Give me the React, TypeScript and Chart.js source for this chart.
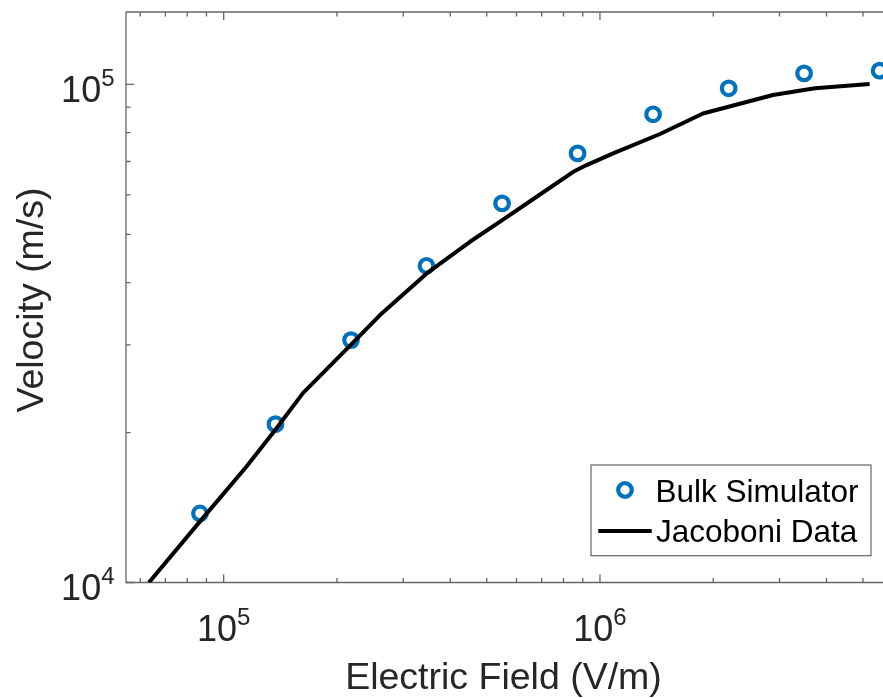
import { useEffect, useRef } from 'react';
import { Chart, registerables } from 'chart.js';

Chart.register(...registerables);

// ---- data ----
const fieldBulk = [86500, 137300, 218000, 345900, 549300, 871900, 1384000, 2198000, 3487000, 5534000];
const velocityBulk = [13760, 20790, 30660, 43220, 57680, 72690, 87060, 98170, 105200, 106500];

const fieldJacoboni = [63300, 87100, 114600, 136900, 162400, 218000, 260300, 346400, 451300, 550100, 678800, 849200, 921700, 1084000, 1444000, 1878000, 2882000, 3727000, 5208000];
const velocityJacoboni = [10000, 13340, 17040, 20220, 24000, 30030, 34420, 41730, 48300, 53400, 59480, 66750, 68860, 72690, 79480, 87370, 95170, 98170, 100100];

const xMajorTicks = [1e5, 1e6];
const yMajorTicks = [1e4, 1e5];
const xLimits = [55010, 5651000];
const yLimits = [10000, 139700];

const seriesLabels = ['Bulk Simulator', 'Jacoboni Data'];
const xTitle = 'Electric Field (V/m)';
const yTitle = 'Velocity (m/s)';

// ---- styles ----
const FONT = '"Liberation Sans", Arial, Helvetica, sans-serif';
const BLUE = '#0072BD';
const AXIS = '#646464';
const TEXT = '#262626';

function minorTicks(min: number, max: number): number[] {
  const out: number[] = [];
  for (let d = Math.floor(Math.log10(min)); d <= Math.ceil(Math.log10(max)); d++) {
    for (let m = 2; m <= 9; m++) {
      const v = m * Math.pow(10, d);
      if (v >= min && v <= max) out.push(v);
    }
  }
  return out;
}

function drawPow(ctx: CanvasRenderingContext2D, exp: number, x: number, baseY: number, align: 'center' | 'right') {
  const base = '10';
  const sup = String(exp);
  ctx.font = `36px ${FONT}`;
  const wb = ctx.measureText(base).width;
  ctx.font = `24px ${FONT}`;
  const ws = ctx.measureText(sup).width;
  const total = wb + ws;
  const start = align === 'center' ? x - total / 2 : x - total;
  ctx.textAlign = 'left';
  ctx.textBaseline = 'alphabetic';
  ctx.fillStyle = TEXT;
  ctx.font = `36px ${FONT}`;
  ctx.fillText(base, start, baseY);
  ctx.font = `24px ${FONT}`;
  ctx.fillText(sup, start + wb, baseY - 16);
}

const axesPlugin = {
  id: 'matlabAxes',
  beforeDatasetsDraw(chart: any) {
    const { ctx, chartArea } = chart;
    const { left, right, top, bottom } = chartArea;
    const xs = chart.scales.x;
    const ys = chart.scales.y;
    ctx.save();
    ctx.strokeStyle = AXIS;
    ctx.lineWidth = 1.3;
    ctx.beginPath();
    ctx.moveTo(left, top);
    ctx.lineTo(right + 2, top);
    ctx.moveTo(left, top);
    ctx.lineTo(left, bottom);
    ctx.lineTo(right + 2, bottom);
    ctx.stroke();

    const MAJ = 8;
    const MIN = 4.5;
    ctx.beginPath();
    const xTicks: [number, number][] = [
      ...xMajorTicks.map((v) => [v, MAJ] as [number, number]),
      ...minorTicks(xLimits[0], xLimits[1]).filter((v) => !xMajorTicks.includes(v)).map((v) => [v, MIN] as [number, number]),
    ];
    for (const [v, len] of xTicks) {
      const px = xs.getPixelForValue(v);
      ctx.moveTo(px, bottom);
      ctx.lineTo(px, bottom - len);
      ctx.moveTo(px, top);
      ctx.lineTo(px, top + len);
    }
    const yTicks: [number, number][] = [
      ...yMajorTicks.map((v) => [v, MAJ] as [number, number]),
      ...minorTicks(yLimits[0], yLimits[1]).filter((v) => !yMajorTicks.includes(v)).map((v) => [v, MIN] as [number, number]),
    ];
    for (const [v, len] of yTicks) {
      const py = ys.getPixelForValue(v);
      ctx.moveTo(left, py);
      ctx.lineTo(left + len, py);
    }
    ctx.stroke();
    ctx.restore();
  },
  afterDraw(chart: any) {
    const { ctx, chartArea } = chart;
    const { left, right, bottom } = chartArea;
    const xs = chart.scales.x;
    const ys = chart.scales.y;
    ctx.save();

    // tick labels
    for (const v of xMajorTicks) {
      drawPow(ctx, Math.round(Math.log10(v)), xs.getPixelForValue(v), bottom + 58.5, 'center');
    }
    for (const v of yMajorTicks) {
      drawPow(ctx, Math.round(Math.log10(v)), left - 11.5, ys.getPixelForValue(v) + 17.4, 'right');
    }

    // axis titles
    ctx.fillStyle = TEXT;
    ctx.font = `37.5px ${FONT}`;
    ctx.textAlign = 'center';
    ctx.textBaseline = 'alphabetic';
    ctx.fillText(xTitle, (left + right) / 2 - 1, 689);
    ctx.save();
    ctx.translate(42.7, 300);
    ctx.rotate(-Math.PI / 2);
    ctx.fillText(yTitle, 0, 0);
    ctx.restore();

    // legend
    const ds = chart.data.datasets;
    const bx = 591, by = 465, bw = 280, bh = 90.7;
    ctx.fillStyle = '#ffffff';
    ctx.fillRect(bx, by, bw, bh);
    ctx.strokeStyle = AXIS;
    ctx.lineWidth = 1.2;
    ctx.strokeRect(bx, by, bw, bh);

    ctx.beginPath();
    ctx.arc(625, 490, ds[0].pointRadius, 0, Math.PI * 2);
    ctx.strokeStyle = ds[0].pointBorderColor;
    ctx.lineWidth = ds[0].pointBorderWidth;
    ctx.stroke();

    ctx.beginPath();
    ctx.moveTo(598.3, 531);
    ctx.lineTo(651.7, 531);
    ctx.strokeStyle = ds[1].borderColor;
    ctx.lineWidth = ds[1].borderWidth;
    ctx.stroke();

    ctx.fillStyle = '#000000';
    ctx.font = `31.5px ${FONT}`;
    ctx.textAlign = 'left';
    ctx.fillText(ds[0].label, 655.5, 501.7);
    ctx.fillText(ds[1].label, 656, 541.7);

    ctx.restore();
  },
};

export default function App() {
  const ref = useRef<HTMLCanvasElement>(null);

  useEffect(() => {
    const canvas = ref.current;
    if (!canvas) return;
    const chart = new Chart(canvas, {
      type: 'scatter',
      data: {
        datasets: [
          {
            label: seriesLabels[0],
            data: fieldBulk.map((x, i) => ({ x, y: velocityBulk[i] })),
            showLine: false,
            pointStyle: 'circle',
            pointRadius: 6.8,
            pointHoverRadius: 6.8,
            pointBorderWidth: 4.2,
            pointBorderColor: BLUE,
            pointBackgroundColor: 'rgba(0,0,0,0)',
            borderColor: BLUE,
            backgroundColor: 'rgba(0,0,0,0)',
            order: 1,
          } as any,
          {
            label: seriesLabels[1],
            data: fieldJacoboni.map((x, i) => ({ x, y: velocityJacoboni[i] })),
            showLine: true,
            borderColor: '#000000',
            backgroundColor: '#000000',
            borderWidth: 4,
            pointRadius: 0,
            pointHoverRadius: 0,
            tension: 0,
            borderJoinStyle: 'round',
            fill: false,
            order: 0,
          } as any,
        ],
      },
      options: {
        responsive: false,
        maintainAspectRatio: false,
        animation: false,
        events: [],
        layout: { autoPadding: false, padding: { left: 126, top: 12, right: 0, bottom: 115.5 } },
        scales: {
          x: { type: 'logarithmic', min: xLimits[0], max: xLimits[1], display: false },
          y: { type: 'logarithmic', min: yLimits[0], max: yLimits[1], display: false },
        },
        plugins: {
          legend: { display: false },
          tooltip: { enabled: false },
        },
      },
      plugins: [axesPlugin],
    });
    return () => chart.destroy();
  }, []);

  return (
    <div style={{ position: 'absolute', left: 0, top: 0, width: 883, height: 698, background: '#ffffff', overflow: 'hidden' }}>
      <canvas ref={ref} width={883} height={698} style={{ display: 'block', width: 883, height: 698 }} />
    </div>
  );
}
